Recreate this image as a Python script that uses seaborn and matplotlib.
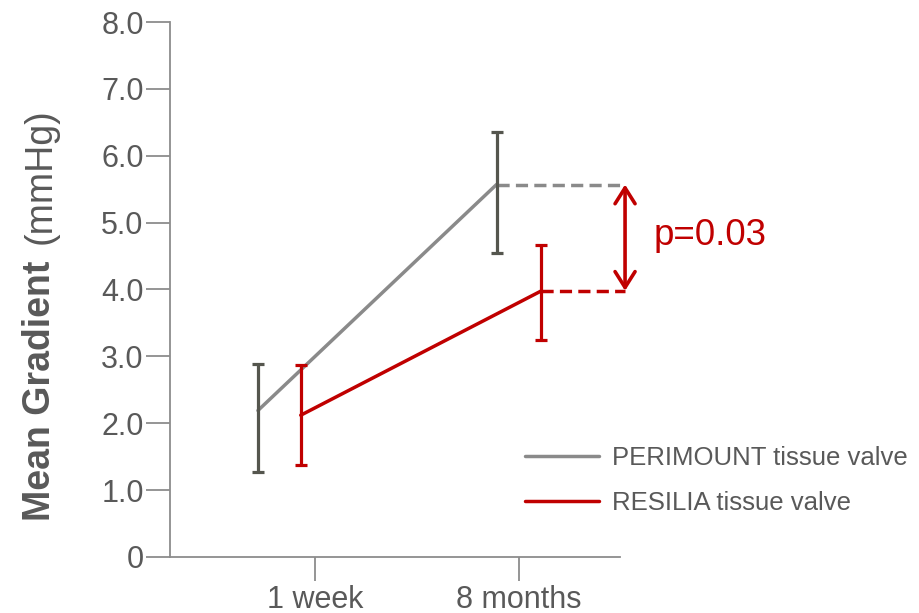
"""Mean gradient over time for two tissue valves, with SD error bars."""
import matplotlib

matplotlib.use("Agg")
import matplotlib.pyplot as plt
import pandas as pd
import seaborn as sns

timepoints = ["1 week", "8 months"]
series = ["PERIMOUNT tissue valve", "RESILIA tissue valve"]
perimount_mean = [2.19, 5.57]
perimount_low = [1.27, 4.55]
perimount_high = [2.89, 6.36]
resilia_mean = [2.12, 3.98]
resilia_low = [1.37, 3.24]
resilia_high = [2.87, 4.67]
p_label = "p=0.03"

# horizontal dodge of each series around the timepoint ticks
perimount_dodge = [-0.28, -0.11]
resilia_dodge = [-0.07, 0.11]

GREY = "#8a8a8a"
GREY_BAR = "#55564e"
RED = "#c00000"
TEXT = "#595959"
AXIS = "#8c8c8c"
LW = 2.5

sns.set_theme(style="white")
plt.rcParams["font.family"] = ["Liberation Sans", "DejaVu Sans"]

perimount_x = [i + d for i, d in enumerate(perimount_dodge)]
resilia_x = [i + d for i, d in enumerate(resilia_dodge)]

df = pd.DataFrame({
    "x": perimount_x + resilia_x,
    "mean": perimount_mean + resilia_mean,
    "valve": [series[0]] * 2 + [series[1]] * 2,
})

fig = plt.figure(figsize=(9.19, 6.13), dpi=100)
ax = fig.add_axes([0.185, 0.0914, 0.4896, 0.8727])

sns.lineplot(data=df, x="x", y="mean", hue="valve", palette=[GREY, RED],
             linewidth=LW, legend=False, ax=ax)

for xs, m, lo, hi, c in [(perimount_x, perimount_mean, perimount_low, perimount_high, GREY_BAR),
                         (resilia_x, resilia_mean, resilia_low, resilia_high, RED)]:
    err = [[a - b for a, b in zip(m, lo)], [b - a for a, b in zip(m, hi)]]
    ax.errorbar(xs, m, yerr=err, fmt="none", ecolor=c, elinewidth=2.3,
                capsize=4.5, capthick=2.3, zorder=3)

# dashed comparison lines at 8 months and the significance arrow
x_end = 1.52
ax.plot([perimount_x[1], x_end], [perimount_mean[1]] * 2, color=GREY,
        lw=LW, ls=(0, (3.5, 1.8)), clip_on=False)
ax.plot([resilia_x[1], x_end], [resilia_mean[1]] * 2, color=RED,
        lw=LW, ls=(0, (3.5, 1.8)), clip_on=False)
ax.annotate("", xy=(x_end, perimount_mean[1]), xytext=(x_end, resilia_mean[1]),
            arrowprops=dict(arrowstyle="<->,head_length=0.95,head_width=0.6", color=RED,
                            lw=2.6, shrinkA=0, shrinkB=0),
            annotation_clip=False)
ax.text(1.66, (perimount_mean[1] + resilia_mean[1]) / 2 + 0.03, p_label,
        color=RED, fontsize=26.5, va="center", ha="left", clip_on=False)

ax.set_xlim(-0.711, 1.495)
ax.set_ylim(0, 8)
ax.set_xticks(range(len(timepoints)))
ax.set_xticklabels(timepoints)
yt = list(range(0, 9))
ax.set_yticks(yt)
ax.set_yticklabels(["0"] + [f"{v:.1f}" for v in yt[1:]])
ax.tick_params(axis="both", colors=AXIS, labelcolor=TEXT, labelsize=22,
               length=17, width=1.3, direction="out", left=True, bottom=True)
ax.tick_params(axis="y", pad=2)
ax.tick_params(axis="x", pad=3)
ax.set_xlabel("")
ax.set_ylabel("")
for s in ["top", "right"]:
    ax.spines[s].set_visible(False)
for s in ["left", "bottom"]:
    ax.spines[s].set_color(AXIS)
    ax.spines[s].set_linewidth(1.3)

# y axis title: bold part + normal unit
fig.text(0.044, 0.362, "Mean Gradient", rotation=90, fontsize=27,
         fontweight="bold", color=TEXT, ha="center", va="center")
fig.text(0.044, 0.713, "(mmHg)", rotation=90, fontsize=27,
         color=TEXT, ha="center", va="center")

# legend
handles = [plt.Line2D([], [], color=GREY, lw=LW), plt.Line2D([], [], color=RED, lw=LW)]
leg = fig.legend(handles, series, loc="upper left", bbox_to_anchor=(0.560, 0.290),
                 frameon=False, fontsize=18.5, handlelength=2.9, handletextpad=0.47,
                 labelspacing=0.82, borderaxespad=0)
for t in leg.get_texts():
    t.set_color(TEXT)

fig.savefig("out.png", dpi=100)
